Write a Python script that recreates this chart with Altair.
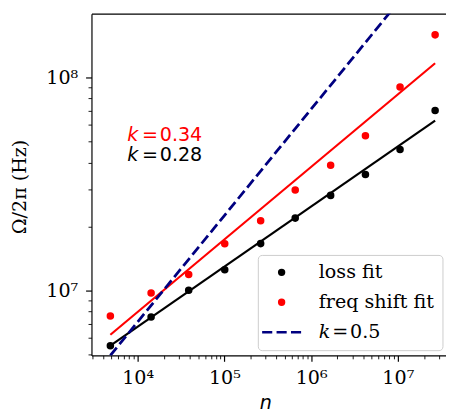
import altair as alt
import pandas as pd

# ---------------- data ----------------
n_vals = [4850, 14300, 38800, 101000, 262000, 656000, 1680000, 4230000, 10600000, 26900000]
loss_vals = [5.51e6, 7.51e6, 1.003e7, 1.254e7, 1.662e7, 2.19e7, 2.80e7, 3.51e7, 4.60e7, 7.02e7]
freq_vals = [7.60e6, 9.75e6, 1.19e7, 1.66e7, 2.13e7, 2.97e7, 3.88e7, 5.34e7, 9.04e7, 1.59e8]

fit_n = [4850, 26900000]
loss_fit_vals = [5.51e6, 6.29e7]
freq_fit_vals = [6.20e6, 1.17e8]
ref_vals = [4.96e6, 3.69e8]

series_names = ["loss fit", "freq shift fit", "𝑘\u200a=\u200a0.5"]
series_colors = ["black", "red", "#000080"]

ann_n = [7610, 7610]
ann_vals = [5.05e7, 4.08e7]
ann_k = ["k", "k"]
ann_rest = ["=\u200a0.34", "=\u200a0.28"]
ann_colors = ["red", "black"]

x_major = [10000, 100000, 1000000, 10000000]
x_major_labels = ["10⁴", "10⁵", "10⁶", "10⁷"]
x_minor = [3000, 4000, 5000, 6000, 7000, 8000, 9000,
           20000, 30000, 40000, 50000, 60000, 70000, 80000, 90000,
           200000, 300000, 400000, 500000, 600000, 700000, 800000, 900000,
           2000000, 3000000, 4000000, 5000000, 6000000, 7000000, 8000000, 9000000,
           20000000, 30000000]
y_major = [10000000, 100000000]
y_major_labels = ["10⁷", "10⁸"]
y_minor = [5000000, 6000000, 7000000, 8000000, 9000000,
           20000000, 30000000, 40000000, 50000000, 60000000, 70000000, 80000000, 90000000]

# ---------------- tables ----------------
points = pd.DataFrame({
    "n": n_vals + n_vals,
    "v": loss_vals + freq_vals,
    "series": [series_names[0]] * len(n_vals) + [series_names[1]] * len(n_vals),
})
fits = pd.DataFrame({
    "n": fit_n + fit_n,
    "v": loss_fit_vals + freq_fit_vals,
    "fit": ["loss", "loss", "freq", "freq"],
})
ref = pd.DataFrame({"n": fit_n, "v": ref_vals})
ann = pd.DataFrame({"n": ann_n, "v": ann_vals, "k": ann_k, "rest": ann_rest, "c": ann_colors})

FS = 19.44
xscale = alt.Scale(type="log", domain=[2937, 3.59e7], nice=False)
yscale = alt.Scale(type="log", domain=[4.96e6, 2.0e8], nice=False)


def label_expr(vals, labels):
    s = ""
    for v, lab in zip(vals, labels):
        s += f"datum.value == {int(v)} ? '{lab}' : "
    return s + "''"


def major_test(vals):
    return "indexof([" + ",".join(str(int(v)) for v in vals) + "], datum.value) >= 0"


def tick_size(vals):
    return {"condition": {"test": major_test(vals), "value": 6}, "value": 3.5}


def tick_width(vals):
    return {"condition": {"test": major_test(vals), "value": 1.2}, "value": 0.9}


x_axis = alt.Axis(
    orient="bottom", values=x_major + x_minor, labelExpr=label_expr(x_major, x_major_labels),
    tickSize=tick_size(x_major), tickWidth=tick_width(x_major), tickColor="black",
    labelFont="DejaVu Serif", labelFontSize=FS, labelColor="black", labelPadding=7.5,
    labelOverlap=False, labelFlush=False, domainColor="black", domainWidth=1.2, grid=False,
    title="n", titleFont="DejaVu Sans", titleFontStyle="italic", titleFontWeight="normal",
    titleFontSize=FS, titleColor="black", titleX=177, titleY=54.4,
    titleBaseline="alphabetic", titleAlign="center",
)
y_axis = alt.Axis(
    orient="left", values=y_major + y_minor, labelExpr=label_expr(y_major, y_major_labels),
    tickSize=tick_size(y_major), tickWidth=tick_width(y_major), tickColor="black",
    labelFont="DejaVu Serif", labelFontSize=FS, labelColor="black", labelPadding=8,
    labelOverlap=False, labelFlush=False, domainColor="black", domainWidth=1.2, grid=False,
    title="Ω/2π (Hz)", titleFont="DejaVu Serif", titleFontWeight="normal",
    titleFontSize=FS, titleColor="black", titleX=-73, titleY=176,
    titleBaseline="middle", titleAlign="center", titleAngle=270,
)
top_axis = alt.Axis(orient="top", labels=False, ticks=False, title=None, grid=False,
                    domainColor="black", domainWidth=1.2)

dash_path = "M-7.78,0H-3.74M-2.02,0H2.02M3.74,0H7.78"
legend = alt.Legend(
    title=None, orient="none", legendX=169.4, legendY=245.7,
    labelFont="DejaVu Serif", labelFontSize=FS, labelColor="black", labelLimit=400,
    symbolSize=26, symbolStrokeWidth=2.4, symbolOffset=6.5, labelOffset=28.1,
    padding=8, rowPadding=9.5, fillColor="rgba(255,255,255,0.8)",
    strokeColor="#cccccc", cornerRadius=4,
)

fit_layer = alt.Chart(fits).mark_line(strokeWidth=2.2, clip=True).encode(
    x=alt.X("n:Q", scale=xscale, axis=None),
    y=alt.Y("v:Q", scale=yscale, axis=None),
    color=alt.Color("fit:N", scale=alt.Scale(domain=["loss", "freq"], range=["black", "red"]), legend=None),
    detail="fit:N",
)

ref_layer = alt.Chart(ref).mark_line(color="#000080", strokeWidth=2.8, strokeDash=[10.3, 4.4], clip=True).encode(
    x=alt.X("n:Q", scale=xscale, axis=top_axis),
    y=alt.Y("v:Q", scale=yscale, axis=None),
)

point_layer = alt.Chart(points).mark_point(filled=True, size=28, strokeWidth=2.4, opacity=1).encode(
    x=alt.X("n:Q", scale=xscale, axis=x_axis),
    y=alt.Y("v:Q", scale=yscale, axis=y_axis),
    fill=alt.Fill("series:N", scale=alt.Scale(domain=series_names, range=series_colors), legend=legend),
    stroke=alt.Stroke("series:N", scale=alt.Scale(domain=series_names, range=series_colors), legend=legend),
    shape=alt.Shape("series:N", scale=alt.Scale(domain=series_names, range=["circle", "circle", dash_path]), legend=legend),
)

k_layer = alt.Chart(ann).mark_text(align="left", baseline="alphabetic", font="DejaVu Sans",
                                   fontSize=FS, fontStyle="italic").encode(
    x=alt.X("n:Q", scale=xscale, axis=None),
    y=alt.Y("v:Q", scale=yscale, axis=None),
    text="k:N",
    color=alt.Color("c:N", scale=None),
)
rest_layer = alt.Chart(ann).mark_text(align="left", baseline="alphabetic", font="DejaVu Sans",
                                      fontSize=FS, dx=14.8).encode(
    x=alt.X("n:Q", scale=xscale, axis=None),
    y=alt.Y("v:Q", scale=yscale, axis=None),
    text="rest:N",
    color=alt.Color("c:N", scale=None),
)

chart = alt.layer(fit_layer, ref_layer, point_layer, k_layer, rest_layer).properties(
    width=361, height=348,
    autosize=alt.AutoSizeParams(type="none"),
    padding={"left": 85, "top": 2, "right": 0, "bottom": 60},
).resolve_axis(x="independent", y="independent").configure_view(stroke=None)

chart.save("out.html", embed_options={"renderer": "svg", "actions": False})
